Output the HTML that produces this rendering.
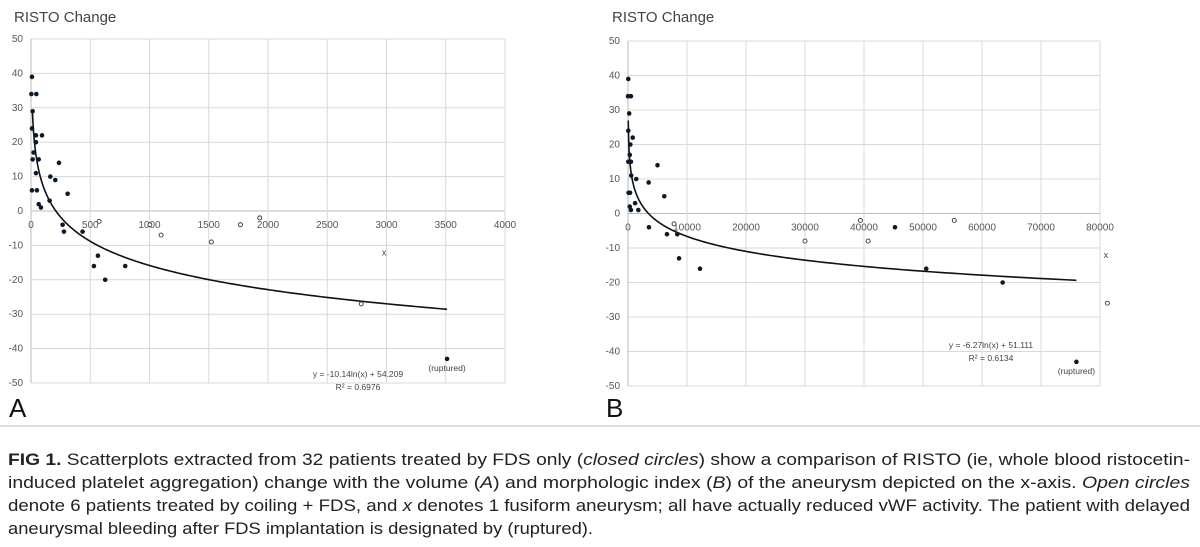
<!DOCTYPE html>
<html><head><meta charset="utf-8"><style>
html,body{margin:0;padding:0;background:#fff;}
svg{display:block;font-family:"Liberation Sans",sans-serif;}
</style></head><body>
<svg id="fig" width="1200" height="547" viewBox="0 0 1200 547" xmlns="http://www.w3.org/2000/svg">
<g id="chartA"></g>
<g id="chartB"></g>
<line x1="0" y1="426" x2="1200" y2="426" stroke="#bbb" stroke-width="1"/>
<g font-size="17" fill="#222">
<text x="8" y="465" textLength="1182" lengthAdjust="spacingAndGlyphs"><tspan font-weight="bold">FIG 1.</tspan> Scatterplots extracted from 32 patients treated by FDS only (<tspan font-style="italic">closed circles</tspan>) show a comparison of RISTO (ie, whole blood ristocetin-</text>
<text x="8" y="488" textLength="1182" lengthAdjust="spacingAndGlyphs">induced platelet aggregation) change with the volume (<tspan font-style="italic">A</tspan>) and morphologic index (<tspan font-style="italic">B</tspan>) of the aneurysm depicted on the x-axis. <tspan font-style="italic">Open circles</tspan></text>
<text x="8" y="511" textLength="1182" lengthAdjust="spacingAndGlyphs">denote 6 patients treated by coiling + FDS, and <tspan font-style="italic">x</tspan> denotes 1 fusiform aneurysm; all have actually reduced vWF activity. The patient with delayed</text>
<text x="8" y="534" textLength="585" lengthAdjust="spacingAndGlyphs">aneurysmal bleeding after FDS implantation is designated by (ruptured).</text>
</g>
</svg>
<script>
// Chart A data (volume vs RISTO change)
const aClosedX = [8,3,45,14,8,42,93,42,22,14,65,42,163,236,205,8,50,309,157,65,84,267,278,435,531,565,626,795,3511];
const aClosedY = [39,34,34,29,24,22,22,20,17,15,15,11,10,14,9,6,6,5,3,2,1,-4,-6,-6,-16,-13,-20,-16,-43];
const aOpenX = [575,1003,1098,1522,1767,1930,2787];
const aOpenY = [-3,-4,-7,-9,-4,-2,-27];
const aCrossX = [2980];
const aCrossY = [-12];
const aXTicks = [0,500,1000,1500,2000,2500,3000,3500,4000];
const aFit = [-10.14, 54.209, 12, 3511];
// Chart B data (morphologic index vs RISTO change)
const bClosedX = [50,0,500,200,50,800,400,300,50,500,550,1400,3500,5000,100,350,6150,1200,300,500,1750,3550,6600,8350,8650,12200,45250,50550,63500,76000];
const bClosedY = [39,34,34,29,24,22,20,17,15,15,11,10,9,14,6,6,5,3,2,1,1,-4,-6,-6,-13,-16,-4,-16,-20,-43];
const bOpenX = [7800,39400,30000,40700,55300,81250];
const bOpenY = [-3,-2,-8,-8,-2,-26];
const bCrossX = [81000];
const bCrossY = [-12];
const bXTicks = [0,10000,20000,30000,40000,50000,60000,70000,80000];
const yTicks = [50,40,30,20,10,0,-10,-20,-30,-40,-50];
const bFit = [-6.27, 51.111, 47, 76000];

const NS = "http://www.w3.org/2000/svg";
function mk(parent, tag, attrs){const e=document.createElementNS(NS,tag);for(const k in attrs)e.setAttribute(k,attrs[k]);parent.appendChild(e);return e;}

function drawChart(g, cfg){
  const sx = v => cfg.x0 + (v - 0) / cfg.xmax * (cfg.x1 - cfg.x0);
  const sy = v => cfg.yTop + (50 - v) / 100 * (cfg.yBot - cfg.yTop);
  let t = mk(g,'text',{x:cfg.titleX,y:22,'font-size':15,fill:'#444'});
  t.textContent='RISTO Change';
  
  
  yTicks.forEach(v=>{
    const l=mk(g,'line',{x1:cfg.x0,x2:cfg.x1,y1:sy(v),y2:sy(v),stroke:v===0?'#bbb':'#d8d8d8','stroke-width':1});
    
    
    const tx=mk(g,'text',{x:cfg.x0-8,y:sy(v)+3,'font-size':10,fill:'#555','text-anchor':'end'});
    tx.textContent=v;
    
    
  });
  cfg.xt.forEach(v=>{
    const l=mk(g,'line',{x1:sx(v),x2:sx(v),y1:cfg.yTop,y2:cfg.yBot,stroke:v===0?'#bbb':'#d8d8d8','stroke-width':1});
    
    
    const tx=mk(g,'text',{x:sx(v),y:sy(0)+17,'font-size':10,fill:'#555','text-anchor':'middle'});
    tx.textContent=v;
    
    
  });
  const [a,b,lo,hi]=cfg.fit;
  let d='';
  for(let i=0;i<=300;i++){
    const xv=Math.exp(Math.log(lo)+(Math.log(hi)-Math.log(lo))*i/300);
    d+=(i?'L':'M')+sx(xv).toFixed(2)+' '+sy(a*Math.log(xv)+b).toFixed(2);
  }
  const p=mk(g,'path',{d:d,fill:'none',stroke:'#111','stroke-width':1.6});
  
  
  cfg.cx.forEach((v,i)=>{
    const c=mk(g,'circle',{cx:sx(v),cy:sy(cfg.cy[i]),r:2.3,fill:'#0a1a2a'});
    
    
  });
  cfg.ox.forEach((v,i)=>{
    const c=mk(g,'circle',{cx:sx(v),cy:sy(cfg.oy[i]),r:2,fill:'#fff',stroke:'#333','stroke-width':0.9});
    
    
  });
  cfg.xx.forEach((v,i)=>{
    const c=mk(g,'text',{x:sx(v),y:sy(cfg.xy[i])+3,'font-size':9,fill:'#444','text-anchor':'middle'});
    c.textContent='x';
    
    
  });
  const lastI=cfg.cx.length-1;
  const r=mk(g,'text',{x:sx(cfg.cx[lastI]),y:sy(cfg.cy[lastI])+12,'font-size':8.5,fill:'#444','text-anchor':'middle'});
  r.textContent='(ruptured)';
  
  
  const e1=mk(g,'text',{x:cfg.eqX,y:cfg.eqY,'font-size':8.5,fill:'#444','text-anchor':'middle'});
  e1.textContent=cfg.eq;
  
  
  const e2=mk(g,'text',{x:cfg.eqX,y:cfg.eqY+13,'font-size':8.5,fill:'#444','text-anchor':'middle'});
  e2.textContent=cfg.r2;
  
  
  const L=mk(g,'text',{x:cfg.letterX,y:417,'font-size':26,fill:'#111'});
  L.textContent=cfg.letter;
  
  
}
drawChart(document.getElementById('chartA'),{x0:31,x1:505,xmax:4000,yTop:39,yBot:383,titleX:14,xt:aXTicks,fit:aFit,
  cx:aClosedX,cy:aClosedY,ox:aOpenX,oy:aOpenY,xx:aCrossX,xy:aCrossY,eqX:358,eqY:377,eq:'y = -10.14ln(x) + 54.209',r2:'R² = 0.6976',letter:'A',letterX:9});
drawChart(document.getElementById('chartB'),{x0:628,x1:1100,xmax:80000,yTop:41,yBot:386,titleX:612,xt:bXTicks,fit:bFit,
  cx:bClosedX,cy:bClosedY,ox:bOpenX,oy:bOpenY,xx:bCrossX,xy:bCrossY,eqX:991,eqY:348,eq:'y = -6.27ln(x) + 51.111',r2:'R² = 0.6134',letter:'B',letterX:606});
</script>
</body></html>
